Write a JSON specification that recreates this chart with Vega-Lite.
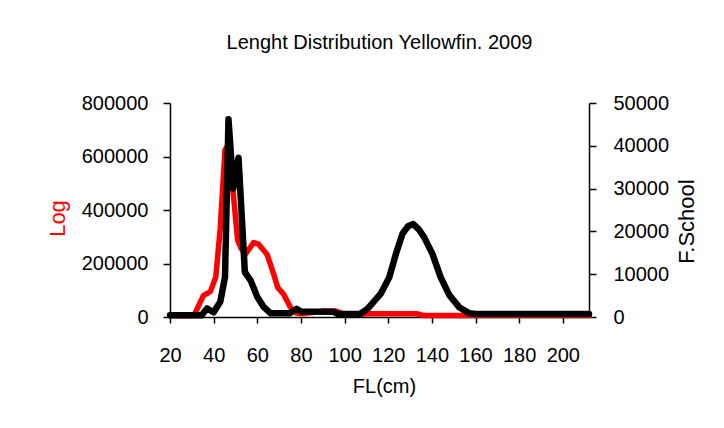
{
  "$schema": "https://vega.github.io/schema/vega-lite/v6.json",
  "autosize": {"type": "none"},
  "padding": {"left": 170, "top": 103, "right": 135, "bottom": 111},
  "width": 419,
  "height": 214,
  "background": "white",
  "title": {
    "text": "Lenght Distribution Yellowfin. 2009",
    "font": "Liberation Sans",
    "fontSize": 20,
    "fontWeight": "normal",
    "color": "black",
    "anchor": "middle",
    "offset": 40
  },
  "datasets": {
    "log": [
      {"fl": 20, "log": 6000},
      {"fl": 31, "log": 6000},
      {"fl": 35.3, "log": 80000},
      {"fl": 38.5, "log": 95000},
      {"fl": 41, "log": 150000},
      {"fl": 43, "log": 330000},
      {"fl": 45.2, "log": 625000},
      {"fl": 46.5, "log": 640000},
      {"fl": 49, "log": 460000},
      {"fl": 51, "log": 287000},
      {"fl": 52.5, "log": 258000},
      {"fl": 54.5, "log": 234000},
      {"fl": 58.3, "log": 278000},
      {"fl": 60.6, "log": 272000},
      {"fl": 64.5, "log": 234000},
      {"fl": 67.5, "log": 160000},
      {"fl": 69.4, "log": 110000},
      {"fl": 72, "log": 86000},
      {"fl": 75.2, "log": 36000},
      {"fl": 77.5, "log": 16000},
      {"fl": 80, "log": 12000},
      {"fl": 86, "log": 18000},
      {"fl": 90, "log": 22000},
      {"fl": 96, "log": 22000},
      {"fl": 100, "log": 10000},
      {"fl": 108, "log": 10000},
      {"fl": 110, "log": 12000},
      {"fl": 133, "log": 12000},
      {"fl": 136, "log": 6000},
      {"fl": 212, "log": 6000}
    ],
    "school": [
      {"fl": 20, "school": 400},
      {"fl": 34.5, "school": 400},
      {"fl": 37, "school": 2000},
      {"fl": 40, "school": 1100},
      {"fl": 43, "school": 3500},
      {"fl": 45.2, "school": 9300},
      {"fl": 46.8, "school": 46200},
      {"fl": 49, "school": 30000},
      {"fl": 51.4, "school": 37200},
      {"fl": 54.3, "school": 10500},
      {"fl": 57, "school": 8500},
      {"fl": 60, "school": 4700},
      {"fl": 63, "school": 2300},
      {"fl": 66, "school": 900},
      {"fl": 75, "school": 900},
      {"fl": 78, "school": 1900},
      {"fl": 80, "school": 1300},
      {"fl": 95, "school": 1200},
      {"fl": 97, "school": 700},
      {"fl": 107, "school": 700},
      {"fl": 110.5, "school": 1900},
      {"fl": 116.5, "school": 5400},
      {"fl": 120.5, "school": 9300},
      {"fl": 123.5, "school": 14700},
      {"fl": 126.5, "school": 19400},
      {"fl": 129, "school": 21200},
      {"fl": 131.5, "school": 21700},
      {"fl": 134, "school": 20500},
      {"fl": 136.5, "school": 18600},
      {"fl": 140.3, "school": 14700},
      {"fl": 144, "school": 9300},
      {"fl": 148, "school": 5100},
      {"fl": 152.5, "school": 2300},
      {"fl": 157, "school": 900},
      {"fl": 160, "school": 700},
      {"fl": 212, "school": 700}
    ]
  },
  "layer": [
    {
      "data": {"name": "log"},
      "mark": {"type": "line", "color": "#ff0000", "strokeWidth": 5.5, "strokeJoin": "round", "strokeCap": "round"},
      "encoding": {
        "x": {
          "field": "fl",
          "type": "quantitative",
          "scale": {"domain": [20, 212], "nice": false, "zero": false},
          "axis": {
            "orient": "bottom",
            "values": [20, 40, 60, 80, 100, 120, 140, 160, 180, 200],
            "tickSize": 6,
            "labelPadding": 22,
            "title": "FL(cm)",
            "titleFontSize": 20,
            "titleX": 214,
            "titleY": 69,
            "titleBaseline": "middle"
          }
        },
        "y": {
          "field": "log",
          "type": "quantitative",
          "scale": {"domain": [0, 800000], "nice": false},
          "axis": {
            "orient": "left",
            "values": [0, 200000, 400000, 600000, 800000],
            "format": "d",
            "tickSize": 7,
            "labelPadding": 15,
            "title": "Log",
            "titleColor": "#ff0000",
            "titleFontSize": 22,
            "titleAngle": 270,
            "titleX": -113,
            "titleY": 115,
            "titleAlign": "center",
            "titleBaseline": "middle"
          }
        }
      }
    },
    {
      "data": {"name": "school"},
      "mark": {"type": "line", "color": "#000000", "strokeWidth": 6.5, "strokeJoin": "round", "strokeCap": "round"},
      "encoding": {
        "x": {"field": "fl", "type": "quantitative"},
        "y": {
          "field": "school",
          "type": "quantitative",
          "scale": {"domain": [0, 50000], "nice": false},
          "axis": {
            "orient": "right",
            "values": [0, 10000, 20000, 30000, 40000, 50000],
            "format": "d",
            "tickSize": 7,
            "labelPadding": 17,
            "title": "F.School",
            "titleFontSize": 22,
            "titleAngle": 270,
            "titleX": 97,
            "titleY": 118,
            "titleAlign": "center",
            "titleBaseline": "middle"
          }
        }
      }
    }
  ],
  "resolve": {"scale": {"y": "independent"}},
  "config": {
    "view": {"stroke": null},
    "axis": {
      "grid": false,
      "labelFlush": false,
      "domainColor": "black",
      "domainWidth": 1.5,
      "tickColor": "black",
      "tickWidth": 1.5,
      "labelColor": "black",
      "titleColor": "black",
      "labelFont": "Liberation Sans",
      "titleFont": "Liberation Sans",
      "labelFontSize": 20,
      "titleFontWeight": "normal"
    }
  }
}
